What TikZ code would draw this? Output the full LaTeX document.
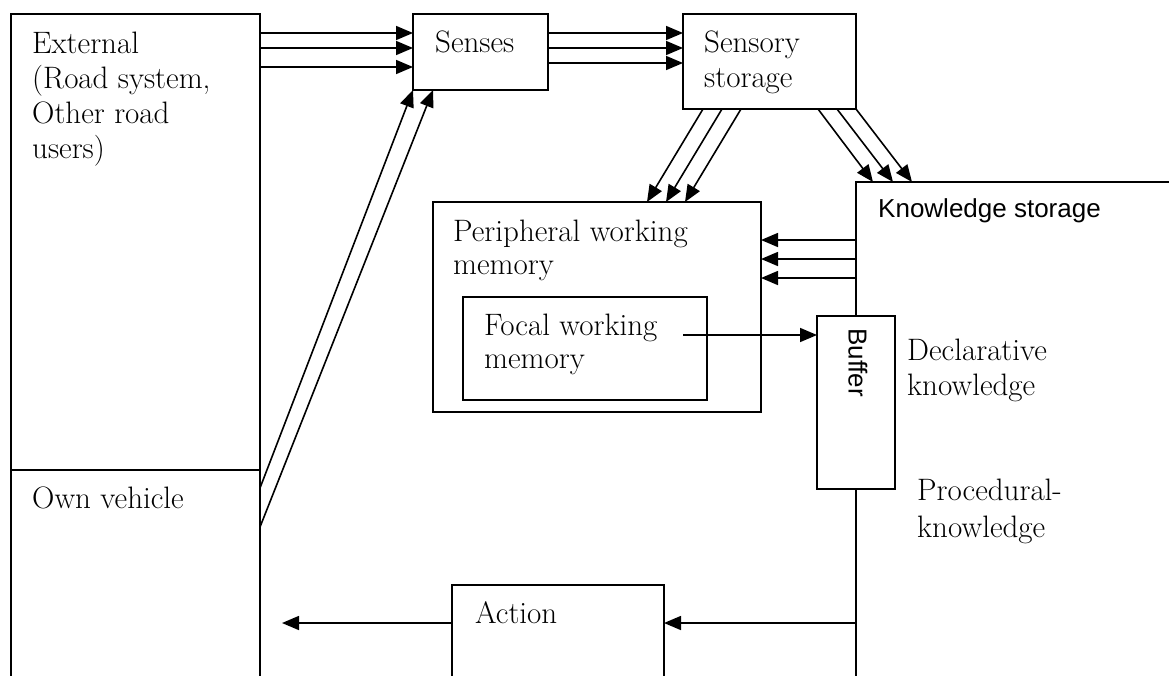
\documentclass[tikz,border=0pt]{standalone}
\usepackage{fontspec}
\newfontfamily\arialsans{Liberation Sans}
\usetikzlibrary{arrows.meta}
\begin{document}
\begin{tikzpicture}[x=1pt,y=-1pt,
  box/.style={draw,line width=1.6pt,inner sep=0pt,outer sep=0pt,anchor=north west},
  % anchor is the baseline of the last line of each label
  lbl/.style={inner sep=0pt,anchor=base west,align=left,font=\fontsize{31}{35}\selectfont},
  tight/.style={font=\fontsize{31}{33}\selectfont},
  slbl/.style={inner sep=0pt,font=\arialsans\fontsize{26}{30}\selectfont},
  arr/.style={line width=1.6pt,-{Triangle[length=17pt,width=14pt]}}]
\useasboundingbox (0,0) rectangle (1169,675);
\clip (0,0) rectangle (1169,675);
\fill[white] (0,0) rectangle (1169,675);

% boxes (some run past the page edge)
\node[box,minimum width=249pt,minimum height=456pt] (ext) at (11,14) {};
\node[box,minimum width=249pt,minimum height=240pt] (own) at (11,470) {};
\node[box,minimum width=135pt,minimum height=76pt] (senses) at (413,14) {};
\node[box,minimum width=173pt,minimum height=95pt] (stor) at (683,14) {};
\node[box,minimum width=328pt,minimum height=210pt] (periph) at (433,202) {};
\node[box,minimum width=244pt,minimum height=103pt] (focal) at (463,297) {};
\node[box,minimum width=340pt,minimum height=520pt] (know) at (856,182) {};
\node[box,fill=white,minimum width=78pt,minimum height=173pt] (buffer) at (817,316) {};
\node[box,minimum width=212pt,minimum height=120pt] (action) at (452,585) {};

% labels
\node[lbl] (extlbl) at (32,158) {External\\(Road system,\\Other road\\users)};
\node[lbl] (ownlbl) at (32,508) {Own vehicle};
\node[lbl] (senslbl) at (435,52) {Senses};
\node[lbl] (storlbl) at (704,87) {Sensory\\storage};
\node[lbl,tight] (periphlbl) at (453,274) {Peripheral working\\memory};
\node[lbl,tight] (focallbl) at (484,368) {Focal working\\memory};
\node[slbl,anchor=base west] (knowlbl) at (878,217) {Knowledge storage};
\node[slbl,rotate=-90,anchor=west] (buflbl) at (858,328) {Buffer};
\node[lbl] (decllbl) at (907,395) {Declarative\\knowledge};
\node[lbl,font=\fontsize{31}{37}\selectfont] (proclbl) at (917,537) {Procedural-\\knowledge};
\node[lbl] (actlbl) at (475,623) {Action};

% external -> senses -> sensory storage
\foreach \y in {33,48,67}
  \draw[arr] (ext.east |- 0,\y) -- (senses.west |- 0,\y);
\foreach \y in {33,48,63}
  \draw[arr] (senses.east |- 0,\y) -- (stor.west |- 0,\y);

% own vehicle -> senses
\draw[arr] (own.east |- 0,488) -- (senses.south west);
\draw[arr] (own.east |- 0,527) -- ([xshift=20pt]senses.south west);

% sensory storage -> peripheral working memory / knowledge storage
\foreach \a/\b in {703/647,722/666,741/685}
  \draw[arr] (\a,0 |- stor.south) -- (\b,0 |- periph.north);
\foreach \a/\b in {818/873,837/893,856/912}
  \draw[arr] (\a,0 |- stor.south) -- (\b,0 |- know.north);

% knowledge storage -> peripheral working memory
\foreach \y in {240,259,278}
  \draw[arr] (know.west |- 0,\y) -- (periph.east |- 0,\y);

% focal working memory -> buffer
\coordinate (fstart) at (683,335);
\draw[arr] (fstart) -- (buffer.west |- fstart);

% knowledge storage -> action -> own vehicle
\coordinate (actout) at (282,623);
\draw[arr] (know.west |- 0,623) -- (action.east |- 0,623);
\draw[arr] (action.west |- 0,623) -- (actout);
\end{tikzpicture}
\end{document}
